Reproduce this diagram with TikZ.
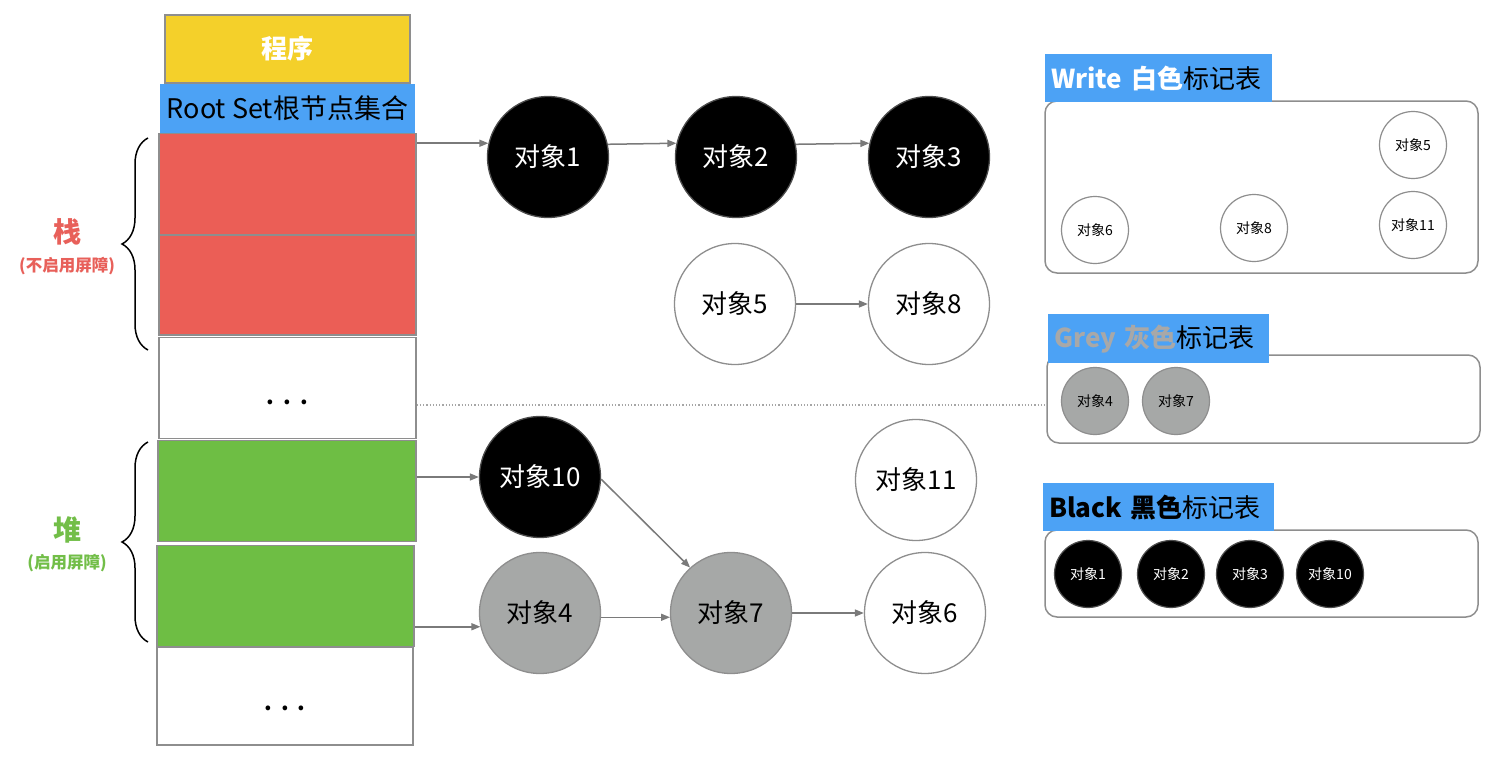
\documentclass[tikz,border=0pt]{standalone}
\usepackage{fontspec}
\setmainfont{Noto Sans CJK SC}
\usetikzlibrary{arrows.meta,decorations.pathreplacing,calc}
\definecolor{cyellow}{HTML}{F4D02A}
\definecolor{cblue}{HTML}{4CA2F5}
\definecolor{cred}{HTML}{EB5E56}
\definecolor{cgreen}{HTML}{6EBE44}
\definecolor{cgrayfill}{HTML}{A6A8A7}
\definecolor{cborder}{HTML}{8E8E8E}
\definecolor{carrow}{HTML}{7A7A7A}
\definecolor{cgreytext}{HTML}{A8A8A8}
\definecolor{clabred}{HTML}{E8605A}
\definecolor{clabgreen}{HTML}{72BE48}
\newcommand{\stackdots}[1]{\smash{\raisebox{#1}{.\hspace{9pt}.\hspace{9pt}.}}}
\begin{document}
\begin{tikzpicture}[x=1pt,y=-1pt,
  stackbox/.style={draw=cborder,line width=1.5pt,minimum width=257pt,minimum height=101pt,inner sep=0pt},
  big/.style={circle,draw=cborder,line width=1.3pt,minimum size=121pt,inner sep=0pt,font=\fontsize{26}{30}\selectfont},
  small/.style={circle,draw=cborder,line width=1.2pt,minimum size=67pt,inner sep=0pt,font=\fontsize{14}{16}\selectfont},
  whiteobj/.style={fill=white,text=black},
  greyobj/.style={fill=cgrayfill,text=black},
  blackobj/.style={fill=black,draw=black!70,text=white},
  arr/.style={draw=carrow,line width=1.5pt,-{Triangle[length=9pt,width=7pt]}},
  panel/.style={draw=cborder,line width=1.5pt,rounded corners=12pt,inner sep=0pt},
  ptitle/.style={fill=cblue,anchor=north west,inner xsep=6pt,inner ysep=0pt,align=left,font=\fontsize{26}{30}\selectfont},
  bracestyle/.style={decorate,decoration={brace,amplitude=26pt},line width=1.5pt},
  sidelab/.style={font=\fontsize{28}{32}\selectfont\bfseries},
  sidesub/.style={font=\fontsize{16.5}{19}\selectfont\bfseries},
  dots/.style={font=\fontsize{22}{26}\selectfont\bfseries}
]
\useasboundingbox[fill=white] (0,0) rectangle (1500,760);

% ---- stack column ----
\node[stackbox,fill=cyellow,minimum width=245pt,minimum height=68pt,text=white,font=\fontsize{26}{30}\selectfont\bfseries] (prog) at (287.5,49) {程序};
\node[fill=cblue,minimum width=255pt,minimum height=49pt,inner sep=0pt,font=\fontsize{27}{30}\selectfont] (rs) at (287.5,108.5) {Root Set根节点集合};
\node[stackbox,fill=cred] (r1) at (287.5,184) {};
\node[stackbox,fill=cred,minimum height=100pt] (r2) at (287.5,285) {};
\node[stackbox,fill=white,dots] (w1) at (287.5,388) {\stackdots{-16pt}};
\node[stackbox,fill=cgreen,minimum width=258pt] (g1) at (287,491) {};
\node[stackbox,fill=cgreen] (g2) at (285.5,596) {};
\node[stackbox,fill=white,minimum width=256pt,minimum height=98pt,dots] (w2) at (285,696) {\stackdots{-14pt}};

% braces and labels
\coordinate (b1a) at (148,350);
\coordinate (b1b) at (148,138);
\coordinate (b2a) at (148,642);
\coordinate (b2b) at (148,442);
\draw[bracestyle] (b1a) -- (b1b);
\draw[bracestyle] (b2a) -- (b2b);
\node[sidelab,text=clabred] (lstack) at (67,232) {栈};
\node[sidesub,text=clabred] (lstacks) at (67,266) {(不启用屏障)};
\node[sidelab,text=clabgreen] (lheap) at (67,530) {堆};
\node[sidesub,text=clabgreen] (lheaps) at (67,563) {(启用屏障)};

% ---- object graph ----
\node[big,blackobj] (o1) at (548,157) {对象1};
\node[big,blackobj] (o2) at (736,157) {对象2};
\node[big,blackobj] (o3) at (929,157) {对象3};
\node[big,whiteobj] (o5) at (735,304) {对象5};
\node[big,whiteobj] (o8) at (929,304) {对象8};
\node[big,blackobj] (o10) at (540,477) {对象10};
\node[big,whiteobj] (o11) at (916,480) {对象11};
\node[big,greyobj] (o4) at (540,613) {对象4};
\node[big,greyobj] (o7) at (731,613) {对象7};
\node[big,whiteobj] (o6) at (925,613) {对象6};

\draw[arr] (r1.east |- o1.167.6) -- (o1.167.6);
\draw[arr] (o1.12.4) -- (o2.167.6);
\draw[arr] (o2.12.4) -- (o3.167.6);
\draw[arr] (o5.east) -- (o8.west);
\draw[arr] (g1.east |- o10.west) -- (o10.west);
\draw[arr] (g2.east |- o4.193.4) -- (o4.193.4);
\draw[arr] (o4.-4) -- (o7.184);
\draw[arr] (o7.east) -- (o6.west);
\draw[arr] (o10.-2) -- (o7.132);

% dotted separator
\coordinate (doty) at (0,405);
\node[panel,minimum width=433pt,minimum height=88pt] (gb) at (1263.5,399) {};
\draw[draw=black!35,line width=1.2pt,dotted] (w1.east |- doty) -- (gb.west |- doty);

% ---- right panels ----
\node[panel,minimum width=433pt,minimum height=172pt] (wb) at (1261.5,187) {};
\node[ptitle,text width=215pt,minimum height=48pt] (wt) at (1045,54) {\textcolor{white}{\bfseries Write 白色}标记表};
\node[small,whiteobj] (wo5) at (1413,145) {对象5};
\node[small,whiteobj] (wo6) at (1095,230) {对象6};
\node[small,whiteobj] (wo8) at (1254,228) {对象8};
\node[small,whiteobj] (wo11) at (1413,225) {对象11};

\node[ptitle,text width=209pt,minimum height=49pt] (gt) at (1048,314) {\textcolor{cgreytext}{\bfseries Grey 灰色}标记表};
\node[small,greyobj] (go4) at (1095,401) {对象4};
\node[small,greyobj] (go7) at (1176,401) {对象7};

\node[panel,minimum width=433pt,minimum height=87pt] (bb) at (1261.5,573.5) {};
\node[ptitle,text width=219pt,minimum height=48pt] (bt) at (1043,483) {{\bfseries Black 黑色}标记表};
\node[small,blackobj] (bo1) at (1088,574) {对象1};
\node[small,blackobj] (bo2) at (1171,574) {对象2};
\node[small,blackobj] (bo3) at (1250,574) {对象3};
\node[small,blackobj] (bo10) at (1330,574) {对象10};
\end{tikzpicture}
\end{document}
